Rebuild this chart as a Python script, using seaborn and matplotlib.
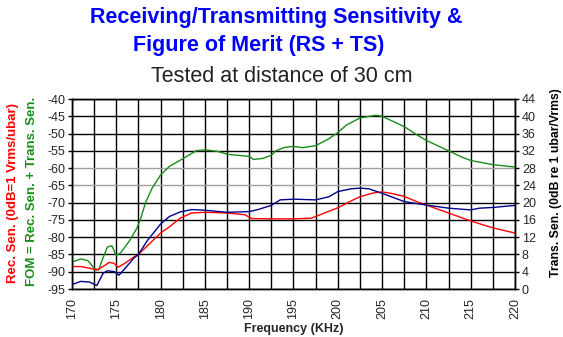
import numpy as np
import pandas as pd
import matplotlib
matplotlib.use("Agg")
import matplotlib.pyplot as plt
import seaborn as sns

# ---- data ----
rec_freq = [170, 171, 172, 172.8, 173.5, 174.2, 174.7, 175.2, 176, 177, 177.5, 178.5, 180, 181,
            182.2, 183.5, 185, 187.5, 189.5, 190.3, 192.5, 195, 197, 197.5, 198.5, 200, 201.5,
            202.5, 204, 205, 206, 207.5, 209, 210, 212.5, 215, 217.5, 220]
rec_sen = [-88.5, -88.5, -89, -89.5, -88.5, -87.3, -87.5, -88.7, -87.5, -85.7, -85, -82.5, -78.8, -77,
           -74.5, -73, -72.8, -73, -73.5, -74.6, -74.7, -74.7, -74.5, -74, -73, -71.5, -69.5,
           -68.3, -67.2, -66.9, -67.3, -68.2, -69.8, -70.7, -73, -75.3, -77.3, -78.8]

trans_freq = [170, 171, 172, 172.8, 173.5, 174, 174.8, 175.3, 176, 177, 177.5, 178.5, 180, 181,
              182.2, 183.5, 185, 187.5, 190, 191, 192.5, 193.5, 195, 197.5, 199, 200, 201.5,
              202.5, 203.5, 205, 207.5, 210, 212.5, 215, 216, 217.5, 220]
trans_sen = [1.04, 1.76, 1.6, 0.8, 3.6, 4.24, 4.0, 3.2, 4.8, 7.2, 8.0, 11.2, 15.04, 16.8,
             17.84, 18.4, 18.24, 17.76, 17.92, 18.4, 19.36, 20.64, 20.8, 20.64, 21.36, 22.56, 23.2,
             23.36, 23.2, 22.16, 20.24, 19.44, 18.72, 18.32, 18.72, 18.88, 19.36]

fom_freq = [170, 171, 171.8, 172.5, 173, 173.5, 174, 174.5, 175, 175.5, 176.5, 177.3, 177.7, 178.3,
            179, 180, 181, 182.5, 184, 185, 186.5, 187.5, 190, 190.5, 191.5, 192.5, 193, 194,
            195, 196, 197.5, 199, 200, 201, 202.5, 204.3, 205, 206, 207.5, 209, 210, 212.5,
            214, 215, 217.5, 220]
fom = [-87.2, -86.3, -86.8, -89, -89.5, -86, -82.8, -82.5, -85.3, -84.5, -81, -77.5, -75, -70,
       -66, -62, -59.5, -57.3, -55, -54.7, -55.2, -56, -56.6, -57.5, -57.2, -56.3, -55, -54,
       -53.7, -54.1, -53.5, -51.5, -49.7, -47.5, -45.5, -44.7, -45, -46.2, -48, -50.5, -52, -55,
       -56.8, -57.8, -59, -59.7]

x_ticks = [170, 175, 180, 185, 190, 195, 200, 205, 210, 215, 220]
left_ticks = [-40, -45, -50, -55, -60, -65, -70, -75, -80, -85, -90, -95]
right_ticks = [0, 4, 8, 12, 16, 20, 24, 28, 32, 36, 40, 44]

rec_df = pd.DataFrame({"freq": rec_freq, "val": rec_sen})
trans_df = pd.DataFrame({"freq": trans_freq, "val": trans_sen})
fom_df = pd.DataFrame({"freq": fom_freq, "val": fom})

sns.set_style("white")
plt.rcParams["font.family"] = ["Liberation Sans", "DejaVu Sans"]

fig = plt.figure(figsize=(5.63, 3.37), dpi=100)
ax = fig.add_axes([72 / 563, 1 - 289 / 337, (515 - 72) / 563, (289 - 99) / 337])

# grid
for xv in np.arange(170, 220.01, 2.5):
    ax.axvline(xv, color="black", lw=1.0, zorder=1)
for yv in left_ticks:
    c = "#a0a0a0" if yv in (-60, -65) else "black"
    ax.axhline(yv, color=c, lw=1.0, zorder=1)

sns.lineplot(data=fom_df, x="freq", y="val", ax=ax, color="#1a8c1a", lw=1.0, zorder=3)
sns.lineplot(data=rec_df, x="freq", y="val", ax=ax, color="#ff0000", lw=1.0, zorder=3)

ax.set_xlim(170, 220)
ax.set_ylim(-95, -40)
ax.set_xticks(x_ticks)
ax.set_xticklabels([str(t) for t in x_ticks], rotation=90, fontsize=9)
ax.set_yticks(left_ticks)
ax.set_yticklabels([str(t) for t in left_ticks], fontsize=9)
ax.tick_params(axis="y", left=True, length=3, width=1, color="black", pad=2)
ax.tick_params(axis="x", bottom=False, pad=3)
ax.set_xlabel("Frequency (KHz)", fontsize=9, fontweight="bold", labelpad=3)
ax.set_ylabel("")
for s in ax.spines.values():
    s.set_color("black")
    s.set_linewidth(1.0)

ax2 = ax.twinx()
sns.lineplot(data=trans_df, x="freq", y="val", ax=ax2, color="#00008b", lw=1.0, zorder=3)
ax2.set_ylim(0, 44)
ax2.set_yticks(right_ticks)
ax2.set_yticklabels([str(t) for t in right_ticks], fontsize=9)
ax2.tick_params(axis="y", right=True, length=3, width=1, color="black", pad=2)
ax2.set_ylabel("")
ax2.set_xlim(170, 220)
for s in ax2.spines.values():
    s.set_color("black")
    s.set_linewidth(1.0)

# titles
fig.text(276 / 563, 1 - 18 / 337, "Receiving/Transmitting Sensitivity &", ha="center", va="center",
         color="#0000ff", fontsize=15.5, fontweight="bold")
fig.text(259 / 563, 1 - 46 / 337, "Figure of Merit (RS + TS)", ha="center", va="center",
         color="#0000ff", fontsize=15.5, fontweight="bold")
fig.text(282 / 563, 1 - 77 / 337, "Tested at distance of 30 cm", ha="center", va="center",
         color="#222222", fontsize=15.5)

# axis side labels
fig.text(13 / 563, 1 - 193 / 337, "Rec. Sen. (0dB=1 Vrms/ubar)", rotation=90, ha="center", va="center",
         color="#ff0000", fontsize=9.5, fontweight="bold")
fig.text(32 / 563, 1 - 191 / 337, "FOM = Rec. Sen. + Trans. Sen.", rotation=90, ha="center", va="center",
         color="#1a8c1a", fontsize=9.5, fontweight="bold")
fig.text(556 / 563, 1 - 183 / 337, "Trans. Sen. (0dB re 1 ubar/Vrms)", rotation=90, ha="center", va="center",
         color="black", fontsize=8.8, fontweight="bold")

fig.savefig("out.png", dpi=100)
